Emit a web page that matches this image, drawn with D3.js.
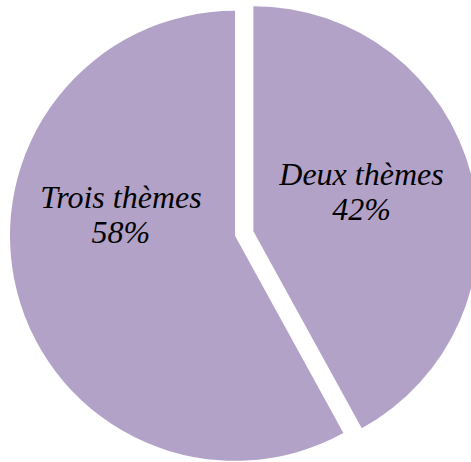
<!DOCTYPE html>
<html>
<head>
<meta charset="utf-8">
<script src="https://cdn.jsdelivr.net/npm/d3@7"></script>
<style>
  html, body { margin: 0; padding: 0; background: #ffffff; }
  svg { display: block; }
</style>
</head>
<body>
<svg id="chart" width="471" height="462"></svg>
<script>
// Data
const categories = ["Deux thèmes", "Trois thèmes"];
const values = [42, 58];
const valueLabels = ["42%", "58%"];

const width = 471, height = 462;
const cx = 244.2, cy = 233.5;
const radius = 225;
const explode = 9.5;
const labelRadius = 117.5;
const labelAngleShift = [-8.7, 28.2]; // degrees, label placement tweak per slice
const fill = "#b3a2c7";

const svg = d3.select("#chart");
const g = svg.append("g").attr("transform", `translate(${cx},${cy})`);

const pie = d3.pie().sort(null).value(d => d.value).startAngle(0).endAngle(2 * Math.PI);
const data = categories.map((c, i) => ({ name: c, value: values[i], label: valueLabels[i] }));
const arcs = pie(data);

const arc = d3.arc().innerRadius(0).outerRadius(radius);

function offset(d) {
  const a = (d.startAngle + d.endAngle) / 2;
  return [Math.sin(a) * explode, -Math.cos(a) * explode];
}

const slice = g.selectAll("g.slice").data(arcs).enter().append("g")
  .attr("class", "slice")
  .attr("transform", d => { const o = offset(d); return `translate(${o[0]},${o[1]})`; });

slice.append("path")
  .attr("d", arc)
  .attr("fill", fill);

slice.each(function(d, i) {
  const a = (d.startAngle + d.endAngle) / 2 + labelAngleShift[i] * Math.PI / 180;
  const x = Math.sin(a) * labelRadius;
  const y = -Math.cos(a) * labelRadius;
  const t = d3.select(this).append("text")
    .attr("text-anchor", "middle")
    .attr("font-family", "'Liberation Serif', 'Times New Roman', serif")
    .attr("font-style", "italic")
    .attr("font-size", 32)
    .attr("fill", "#000000");
  t.append("tspan").attr("x", x).attr("y", y).text(d.data.name);
  t.append("tspan").attr("x", x).attr("y", y + 35).text(d.data.label);
});
</script>
</body>
</html>
